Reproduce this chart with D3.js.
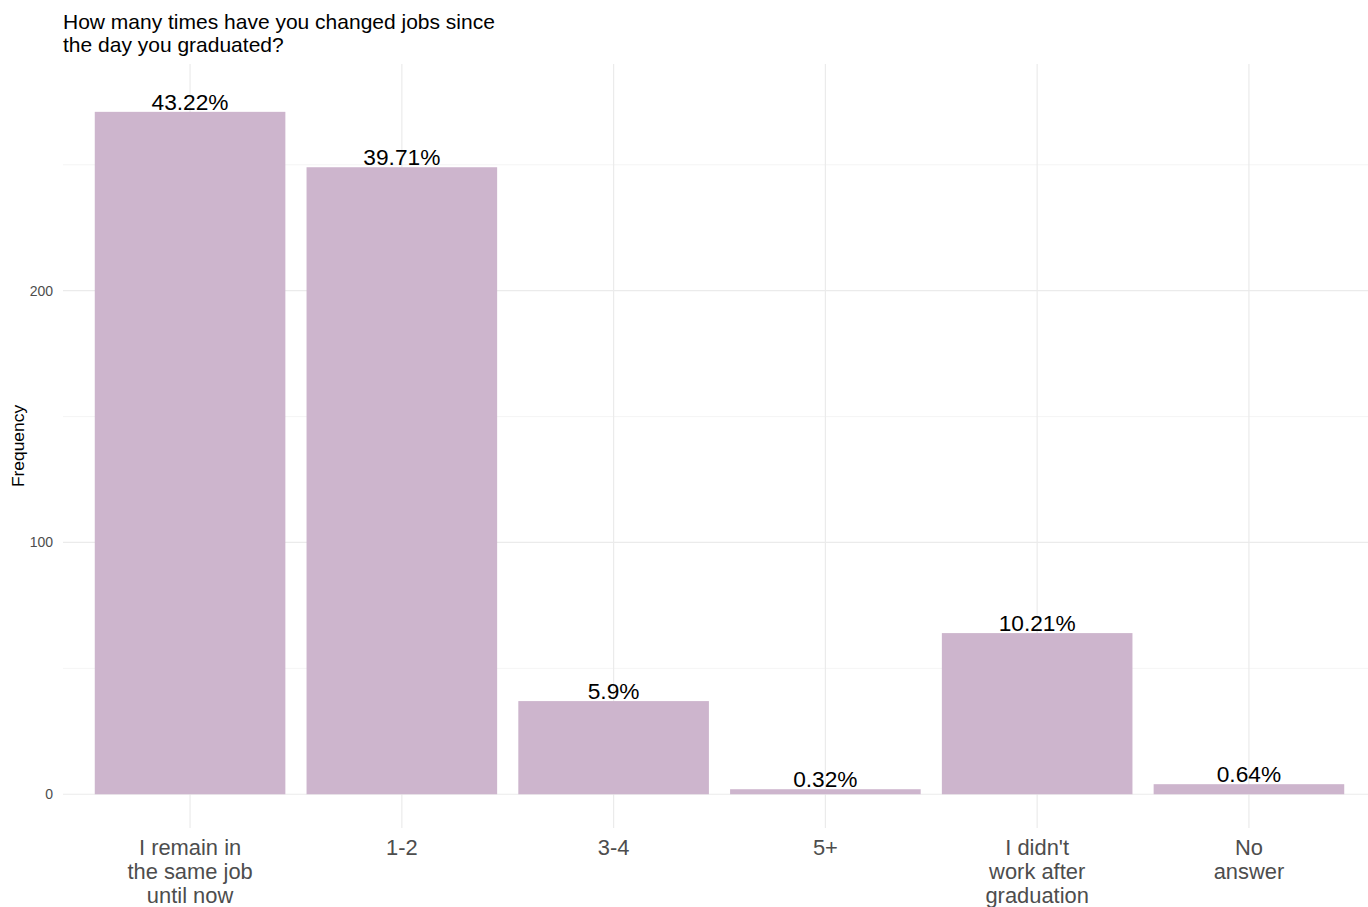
<!DOCTYPE html>
<html>
<head>
<meta charset="utf-8">
<script src="https://cdn.jsdelivr.net/npm/d3@7"></script>
<style>
  html, body { margin: 0; padding: 0; background: #fff; }
  svg { display: block; font-family: "Liberation Sans", Arial, sans-serif; }
</style>
</head>
<body>
<svg id="chart" width="1368" height="907"></svg>
<script>
const categories = ["I remain in\nthe same job\nuntil now", "1-2", "3-4", "5+", "I didn't\nwork after\ngraduation", "No\nanswer"];
const counts = [271, 249, 37, 2, 64, 4];
const percentLabels = ["43.22%", "39.71%", "5.9%", "0.32%", "10.21%", "0.64%"];
const yTicks = [0, 100, 200];
const yMinorTicks = [50, 150, 250];
const titleLines = ["How many times have you changed jobs since", "the day you graduated?"];
const yAxisTitle = "Frequency";

const svg = d3.select("#chart");
const W = 1368, H = 907;
const panel = { left: 63, right: 1376, top: 64, bottom: 828 };

// Discrete x scale with ggplot-like 0.6 expansion
const x = d3.scaleBand()
  .domain(categories)
  .range([panel.left, panel.right])
  .paddingInner(0.1)
  .paddingOuter(0.15);

const y = d3.scaleLinear()
  .domain([-13.4, 290.0])
  .range([panel.bottom, panel.top]);

const grid = svg.append("g");
// minor horizontal grid
grid.selectAll("line.minor").data(yMinorTicks).join("line")
  .attr("x1", panel.left).attr("x2", W)
  .attr("y1", d => y(d)).attr("y2", d => y(d))
  .attr("stroke", "#f2f2f2").attr("stroke-width", 0.8);
// major horizontal grid
grid.selectAll("line.major").data(yTicks).join("line")
  .attr("x1", panel.left).attr("x2", W)
  .attr("y1", d => y(d)).attr("y2", d => y(d))
  .attr("stroke", "#ebebeb").attr("stroke-width", 1.2);
// vertical grid
grid.selectAll("line.v").data(categories).join("line")
  .attr("x1", d => x(d) + x.bandwidth() / 2).attr("x2", d => x(d) + x.bandwidth() / 2)
  .attr("y1", panel.top).attr("y2", panel.bottom)
  .attr("stroke", "#ebebeb").attr("stroke-width", 1.2);

// bars
svg.append("g").selectAll("rect").data(counts).join("rect")
  .attr("x", (d, i) => x(categories[i]))
  .attr("width", x.bandwidth())
  .attr("y", d => y(d))
  .attr("height", d => y(0) - y(d))
  .attr("fill", "#cdb5cd");

// bar labels
svg.append("g").selectAll("text").data(counts).join("text")
  .attr("x", (d, i) => x(categories[i]) + x.bandwidth() / 2)
  .attr("y", d => y(d) - 2)
  .attr("text-anchor", "middle")
  .attr("font-size", 22.7)
  .attr("fill", "#000")
  .text((d, i) => percentLabels[i]);

// y axis tick labels
const yAxis = d3.axisLeft(y).tickValues(yTicks).tickSize(0).tickPadding(10);
const yg = svg.append("g").attr("transform", `translate(${panel.left},0)`).call(yAxis);
yg.select(".domain").remove();
yg.selectAll("text").attr("font-size", 14).attr("fill", "#4d4d4d")
  .attr("font-family", "Liberation Sans, Arial, sans-serif");

// x axis labels (multi-line)
const xl = svg.append("g").selectAll("text").data(categories).join("text")
  .attr("text-anchor", "middle")
  .attr("font-size", 21.9)
  .attr("fill", "#4d4d4d")
  .attr("transform", d => `translate(${x(d) + x.bandwidth() / 2},855)`);
xl.each(function(d) {
  const t = d3.select(this);
  d.split("\n").forEach((line, i) => {
    t.append("tspan").attr("x", 0).attr("y", i * 24).text(line);
  });
});

// y axis title
svg.append("text")
  .attr("transform", `translate(24,${(panel.top + panel.bottom) / 2}) rotate(-90)`)
  .attr("text-anchor", "middle")
  .attr("font-size", 17.4)
  .attr("fill", "#000")
  .text(yAxisTitle);

// title
const title = svg.append("text").attr("font-size", 21).attr("fill", "#000");
titleLines.forEach((l, i) => {
  title.append("tspan").attr("x", 63).attr("y", 29 + i * 23).text(l);
});
</script>
</body>
</html>
